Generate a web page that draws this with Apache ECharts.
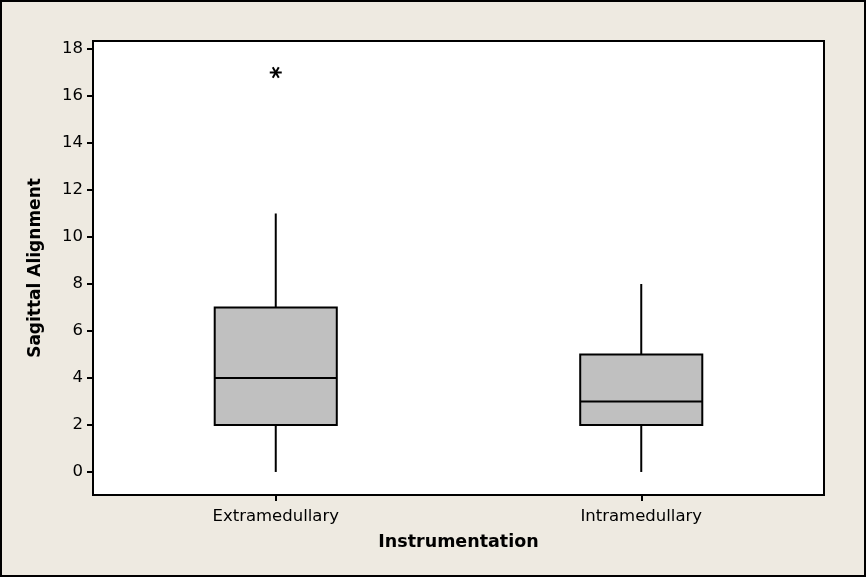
<!DOCTYPE html>
<html>
<head>
<meta charset="utf-8">
<script src="https://cdn.jsdelivr.net/npm/echarts@6/dist/echarts.min.js"></script>
<style>
html,body{margin:0;padding:0;background:#EEEAE1;}
#chart{width:866px;height:577px;}
</style>
</head>
<body>
<div id="chart"></div>
<script>
// Data
const categories = ['Extramedullary', 'Intramedullary'];
const whiskerLow = [0, 0];
const quartile1 = [2, 2];
const medians = [4, 3];
const quartile3 = [7, 5];
const whiskerHigh = [11, 8];
const outlierCategory = [0];
const outlierValue = [17];
const yTickValues = [0, 2, 4, 6, 8, 10, 12, 14, 16, 18];

const boxData = categories.map((c, i) => [i, whiskerLow[i], quartile1[i], medians[i], quartile3[i], whiskerHigh[i]]);
const outlierData = outlierCategory.map((c, i) => [c, outlierValue[i]]);

const chart = echarts.init(document.getElementById('chart'), null, {renderer: 'canvas'});
const FONT = 'DejaVu Sans';

function renderBox(params, api) {
  const x = api.value(0);
  const pMin = api.coord([x, api.value(1)]);
  const pQ1 = api.coord([x, api.value(2)]);
  const pMed = api.coord([x, api.value(3)]);
  const pQ3 = api.coord([x, api.value(4)]);
  const pMax = api.coord([x, api.value(5)]);
  const half = api.size([1, 0])[0] * 0.167;
  const cx = pMed[0];
  const lineStyle = {stroke: '#000', lineWidth: 2, fill: null};
  return {
    type: 'group',
    children: [
      {type: 'line', shape: {x1: cx, y1: pQ3[1], x2: cx, y2: pMax[1]}, style: lineStyle},
      {type: 'line', shape: {x1: cx, y1: pMin[1], x2: cx, y2: pQ1[1]}, style: lineStyle},
      {type: 'rect', shape: {x: cx - half, y: pQ3[1], width: half * 2, height: pQ1[1] - pQ3[1]},
        style: {fill: '#C0C0C0', stroke: '#000', lineWidth: 2}},
      {type: 'line', shape: {x1: cx - half, y1: pMed[1], x2: cx + half, y2: pMed[1]}, style: lineStyle}
    ]
  };
}

function renderOutlier(params, api) {
  const p = api.coord([api.value(0), api.value(1)]);
  const r = 6;
  const children = [0, 60, 120].map(a => {
    const rad = a * Math.PI / 180;
    const dx = r * Math.cos(rad), dy = r * Math.sin(rad);
    return {type: 'line', shape: {x1: p[0] - dx, y1: p[1] - dy, x2: p[0] + dx, y2: p[1] + dy},
      style: {stroke: '#000', lineWidth: 2}};
  });
  return {type: 'group', children};
}

chart.setOption({
  backgroundColor: '#EEEAE1',
  animation: false,
  graphic: [{
    type: 'rect', shape: {x: 1, y: 1, width: 864, height: 575},
    style: {fill: null, stroke: '#000', lineWidth: 2}, silent: true, z: 100
  }],
  grid: {
    left: 93, top: 41, right: 42, bottom: 82,
    show: true, backgroundColor: '#fff', borderColor: '#000', borderWidth: 2
  },
  xAxis: {
    type: 'category',
    data: categories,
    boundaryGap: true,
    name: 'Instrumentation',
    nameLocation: 'middle',
    nameGap: 38,
    nameTextStyle: {fontFamily: FONT, fontWeight: 'bold', fontSize: 17.5, color: '#000', verticalAlign: 'top'},
    axisLine: {show: true, onZero: false, lineStyle: {color: '#000', width: 2}},
    axisTick: {show: true, alignWithLabel: true, length: 6, lineStyle: {color: '#000', width: 2}},
    axisLabel: {fontFamily: FONT, fontSize: 16.5, color: '#000', margin: 13},
    splitLine: {show: false}
  },
  yAxis: {
    type: 'value',
    min: -0.98,
    max: 18.34,
    name: 'Sagittal Alignment',
    nameLocation: 'middle',
    nameGap: 49,
    nameRotate: 90,
    nameTextStyle: {fontFamily: FONT, fontWeight: 'bold', fontSize: 17, color: '#000'},
    axisLine: {show: true, lineStyle: {color: '#000', width: 2}},
    axisTick: {show: true, length: 6, customValues: yTickValues, lineStyle: {color: '#000', width: 2}},
    axisLabel: {fontFamily: FONT, fontSize: 16.5, color: '#000', margin: 10, customValues: yTickValues},
    splitLine: {show: false}
  },
  series: [
    {type: 'custom', renderItem: renderBox, data: boxData, encode: {x: 0, y: [1, 2, 3, 4, 5]}, z: 3},
    {type: 'custom', renderItem: renderOutlier, data: outlierData, encode: {x: 0, y: 1}, z: 4}
  ]
});
</script>
</body>
</html>
